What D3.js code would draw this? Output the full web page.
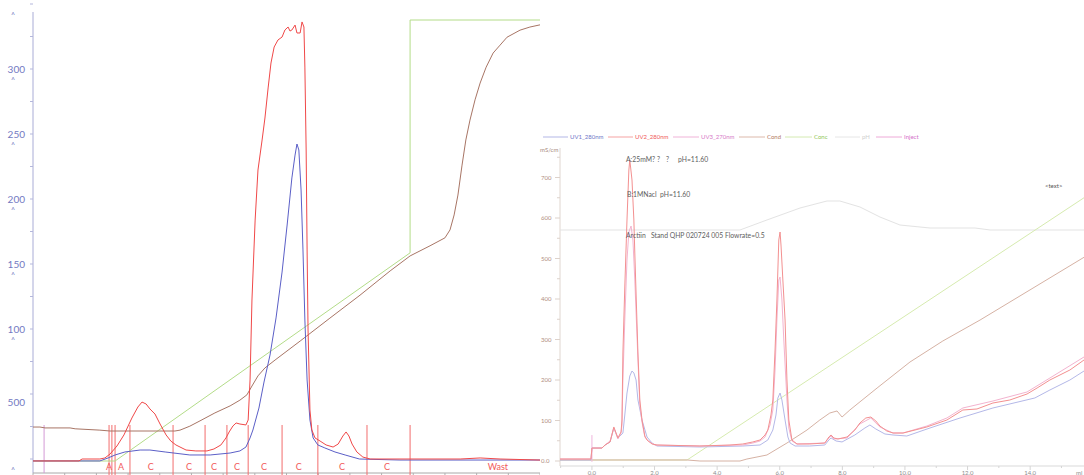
<!DOCTYPE html>
<html><head><meta charset="utf-8">
<script src="https://cdn.jsdelivr.net/npm/d3@7"></script>
<style>html,body{margin:0;padding:0;background:#fff;}svg{display:block;}</style>
</head><body>
<svg id="chart" width="1084" height="475"></svg>
<script>
// ---------- Run 1 (preparative): volume in ml, UV in mAU, Cond / Conc in % of full scale ----------
const prepUV1 = [[0,-1.5],[2.11,-1.5],[2.37,0.8],[2.59,3.1],[2.90,5.4],[3.38,6.9],[3.69,6.9],[4.17,5.4],[4.95,3.1],[5.59,3.1],[6.22,4.6],[6.53,6.2],[6.72,9.2],[6.85,16.2],[6.94,22.3],[7.13,39.2],[7.29,59.2],[7.48,80],[7.67,108.5],[7.86,143.8],[8.02,180],[8.17,216.2],[8.27,233.8],[8.33,242.3],[8.39,237.7],[8.46,206.9],[8.52,160.8],[8.58,106.9],[8.65,60.8],[8.74,30],[8.84,16.2],[8.99,10.8],[9.21,8.5],[9.53,5.4],[9.85,3.1],[10.30,0],[11.58,-0.8],[16,-0.8]];
const prepUV2 = [[0,-1.5],[1.45,-1.5],[1.55,0],[2.11,0],[2.27,0.8],[2.43,3.8],[2.65,10],[2.87,18.5],[3.12,31.5],[3.31,40],[3.44,43.8],[3.57,42.3],[3.69,38.5],[3.85,34.6],[4.01,26.9],[4.20,18.5],[4.35,13.8],[4.51,10.8],[4.83,6.9],[5.14,6.2],[5.49,6.2],[5.71,7.7],[5.93,10.8],[6.09,16.2],[6.19,20.8],[6.31,25.4],[6.41,27.7],[6.53,26.9],[6.72,26.2],[6.79,30],[6.85,60.8],[6.91,122.3],[7.01,183.8],[7.10,222.3],[7.23,245.4],[7.32,262.3],[7.42,285.4],[7.51,304.6],[7.61,316.9],[7.73,322.3],[7.86,324.6],[7.95,330],[8.05,332.3],[8.11,329.2],[8.17,330],[8.27,333.8],[8.33,327.7],[8.43,327.7],[8.49,336.2],[8.55,332.3],[8.58,301.5],[8.62,237.7],[8.65,160.8],[8.68,99.2],[8.74,37.7],[8.80,22.3],[8.90,16.2],[9.06,13.8],[9.25,10.8],[9.47,9.2],[9.63,11.5],[9.78,17.7],[9.88,20.8],[9.97,17.7],[10.07,11.5],[10.22,5.4],[10.41,1.5],[10.64,0],[13.48,0],[14.11,0.8],[14.74,0],[16,-0.8]];
const prepCond = [[0,7.7],[0.22,7.7],[0.38,7.5],[1.17,7.5],[1.33,7.3],[2.11,7.0],[2.43,6.8],[4.48,6.8],[4.64,7.0],[4.95,7.9],[5.27,9.1],[5.74,10.9],[6.22,12.5],[6.53,13.8],[6.75,15.0],[6.91,17.0],[7.10,19.3],[7.32,21.1],[7.64,22.9],[8.43,27.2],[9.37,32.4],[10.32,37.6],[11.27,43.1],[11.90,46.5],[12.53,48.8],[13.00,50.6],[13.16,52.4],[13.29,55.8],[13.41,60.3],[13.54,67.1],[13.66,72.8],[13.79,77.3],[13.95,81.9],[14.11,85.7],[14.30,89.3],[14.52,92.5],[14.74,94.3],[14.96,96.1],[15.37,97.7],[15.68,98.4],[16,98.9]];
const prepConc = [[0,0],[2.59,0],[11.90,47.2],[11.90,100],[16,100]];
const prepInject = 0.35;
const prepFractionEdges = [2.40,2.49,2.59,3.06,4.42,5.43,6.12,6.79,7.86,8.99,10.54,11.90];
const prepFractionNames = ["A","A","C","C","C","C","C","C","C","C","Wast"];
const prepFractionPos = [2.40,2.78,3.72,4.92,5.71,6.44,7.29,8.39,9.75,11.17,14.67];
const prepTickValues = [0,50,100,150,200,250,300,350];
const prepTickLabels = ["","500","100","150","200","250","300",""];

// ---------- Run 2 (analytical): volume in ml, signals in axis units ----------
const anaUV1 = [[-1.02,2.5],[-0.03,2.5],[0,32],[0.32,32],[0.42,39.5],[0.58,47],[0.70,81.5],[0.83,56.8],[0.93,64.2],[0.99,69.1],[1.05,113.6],[1.12,167.9],[1.21,209.9],[1.28,222.2],[1.34,217.3],[1.41,200],[1.47,150.6],[1.60,101.2],[1.76,59.3],[1.92,44.4],[2.08,37],[3.45,34.6],[4.82,37],[5.37,39.5],[5.62,51.9],[5.78,76.5],[5.88,113.6],[5.94,155.6],[6.01,167.9],[6.07,150.6],[6.17,101.2],[6.26,59.3],[6.33,44.4],[6.49,37],[6.96,37],[7.44,39.5],[7.57,51.9],[7.64,56.8],[7.80,49.4],[7.99,47],[8.40,64.2],[8.72,81.5],[8.88,88.9],[9.07,79],[9.36,66.7],[9.62,64.2],[10.06,61.7],[10.80,81.5],[11.76,106.2],[12.81,130.9],[14.15,155.6],[14.63,175.3],[15.27,200],[15.72,222.2]];
const anaUV2 = [[-1.02,4.9],[-0.03,4.9],[0,32],[0.32,32],[0.42,39.5],[0.58,47],[0.70,84],[0.83,56.8],[0.93,71.6],[0.96,101.2],[0.99,266.7],[1.05,429.6],[1.12,595.1],[1.18,718.5],[1.21,743.2],[1.28,693.8],[1.34,595.1],[1.37,513.6],[1.47,266.7],[1.53,150.6],[1.60,101.2],[1.69,61.7],[1.76,51.9],[1.92,42],[2.08,39.5],[3.45,37],[4.41,39.5],[4.82,42],[5.14,47],[5.37,51.9],[5.53,64.2],[5.62,76.5],[5.72,113.6],[5.78,150.6],[5.85,274.1],[5.91,397.5],[5.97,545.7],[6.01,565.4],[6.04,533.3],[6.10,446.9],[6.17,348.1],[6.23,200],[6.29,101.2],[6.39,51.9],[6.55,42],[6.96,42],[7.44,44.4],[7.57,59.3],[7.64,64.2],[7.73,56.8],[7.86,54.3],[8.15,59.3],[8.40,76.5],[8.56,93.8],[8.75,106.2],[8.91,108.6],[9.07,98.8],[9.20,86.4],[9.42,74.1],[9.62,69.1],[9.94,69.1],[10.32,76.5],[10.70,84],[11.34,101.2],[11.85,125.9],[12.30,128.4],[12.81,143.2],[13.35,150.6],[13.90,165.4],[14.22,180.2],[14.63,200],[15.27,224.7],[15.72,249.4]];
const anaUV3 = [[-1.02,4.9],[-0.03,4.9],[0,32],[0.32,32],[0.42,39.5],[0.58,49.4],[0.70,81.5],[0.83,54.3],[0.93,69.1],[0.96,88.9],[0.99,200],[1.05,348.1],[1.12,496.3],[1.18,565.4],[1.25,580.2],[1.31,545.7],[1.37,446.9],[1.47,249.4],[1.53,138.3],[1.60,96.3],[1.69,59.3],[1.79,49.4],[2.01,39.5],[3.45,37],[4.82,39.5],[5.14,44.4],[5.37,49.4],[5.53,59.3],[5.69,88.9],[5.78,125.9],[5.85,224.7],[5.91,348.1],[5.97,446.9],[6.01,454.3],[6.07,397.5],[6.13,298.8],[6.23,150.6],[6.29,81.5],[6.39,49.4],[6.55,42],[7.44,44.4],[7.57,56.8],[7.64,61.7],[7.73,54.3],[8.15,56.8],[8.56,91.4],[8.91,106.2],[9.20,84],[9.62,69.1],[9.94,69.1],[10.70,86.4],[11.34,106.2],[11.85,130.9],[12.81,148.1],[13.90,170.4],[14.63,204.9],[15.72,256.8]];
const anaCond = [[-1.02,2.5],[3.04,2.5],[3.45,0],[4.73,0],[4.95,4.9],[5.59,14.8],[6.23,44.4],[6.87,76.5],[7.28,101.2],[7.60,118.5],[7.83,123.5],[7.99,108.6],[8.24,125.9],[9.11,180.2],[10.16,244.4],[11.21,296.3],[12.40,348.1],[15.72,503]];
const anaConc = [[-1.02,2.5],[3.04,2.5],[15.72,650]];
const anaPH = [[-1.02,570.4],[4.73,570.4],[5.59,595.1],[6.65,624.7],[7.51,642],[7.92,642],[8.56,627.2],[9.20,602.5],[9.84,582.7],[10.80,575.3],[12.24,575.3],[12.72,570.4],[15.72,570.4]];
const anaInject = 0;
const anaYTicks = [0,100,200,300,400,500,600,700];
const anaYLabels = ["0.0","100","200","300","400","500","600","700"];
const anaXTicks = [0,2,4,6,8,10,12,14];
const anaXLabels = ["0.0","2.0","4.0","6.0","8.0","10.0","12.0","14.0"];
const legendNames = ["UV1_280nm","UV2_280nm","UV3_270nm","Cond","Conc","pH","Inject"];
const notes = [["A:25mM?", "?", "?", "pH=11.60"], ["B:1MNacl", "pH=11.60"], ["Arctiin", "Stand QHP 020724 005 Flowrate=0.5"]];
const notePieceX = [[626, 657, 666, 678], [627, 660], [626, 651]];

const svg = d3.select("#chart");
const FONT = "Lato, 'DejaVu Sans', sans-serif";

// ================= left panel =================
const lx = d3.scaleLinear().domain([0, 16]).range([33, 540]);
const ly = d3.scaleLinear().domain([0, 350]).range([459, 4]);
const lp = d3.scaleLinear().domain([0, 100]).range([461, 20]);

svg.append("clipPath").attr("id", "leftClip").append("rect")
  .attr("x", 33).attr("y", 0).attr("width", 507).attr("height", 475);
const left = svg.append("g");

// y axis
left.append("line").attr("x1", 33).attr("x2", 33).attr("y1", 12).attr("y2", 473)
  .attr("stroke", "#a9acd6").attr("stroke-width", 1);
left.selectAll(".ytk").data(d3.range(0, 351, 25)).join("line")
  .attr("x1", 30).attr("x2", 33).attr("y1", d => ly(d)).attr("y2", d => ly(d))
  .attr("stroke", "#b4b7dc");
prepTickValues.forEach((v, i) => {
  const lbl = prepTickLabels[i];
  if (lbl) {
    left.append("text").attr("x", 25).attr("y", ly(v) + (v === 50 ? 12 : 4)).attr("text-anchor", "end")
      .attr("font-family", FONT).attr("font-size", 10).attr("fill", "#7379c2").text(lbl);
  }
  if (v !== 50) {
    left.append("text").attr("x", 11).attr("y", ly(v) + 14)
      .attr("font-family", FONT).attr("font-size", 7).attr("fill", "#7379c2").text("^");
  }
});

// x axis
left.append("line").attr("x1", 33).attr("x2", 540).attr("y1", 473).attr("y2", 473)
  .attr("stroke", "#a8a8a8");
left.selectAll(".xtk").data(d3.range(0, 16.01, 1)).join("line")
  .attr("x1", d => lx(d)).attr("x2", d => lx(d)).attr("y1", 473).attr("y2", 476)
  .attr("stroke", "#b0b0b0");

const lp1 = left.append("g").attr("clip-path", "url(#leftClip)");
// fraction marks
lp1.selectAll(".frac").data(prepFractionEdges).join("line")
  .attr("x1", d => lx(d)).attr("x2", d => lx(d)).attr("y1", 425).attr("y2", 475)
  .attr("stroke", "#f26d6d").attr("stroke-width", 1);
lp1.append("line").attr("x1", lx(prepInject)).attr("x2", lx(prepInject))
  .attr("y1", 425).attr("y2", 473).attr("stroke", "#d59ad6");
lp1.selectAll(".fname").data(prepFractionNames).join("text")
  .attr("x", (d, i) => lx(prepFractionPos[i])).attr("y", 470).attr("text-anchor", "middle")
  .attr("font-family", FONT).attr("font-size", 9).attr("fill", "#f25a5a").text(d => d);

const lineL = (ys) => d3.line().x(d => lx(d[0])).y(d => ys(d[1]));
lp1.append("path").datum(prepConc).attr("d", lineL(lp)).attr("fill", "none")
  .attr("stroke", "#b3dc88").attr("stroke-width", 1);
lp1.append("path").datum(prepCond).attr("d", lineL(lp)).attr("fill", "none")
  .attr("stroke", "#a87565").attr("stroke-width", 1);
lp1.append("path").datum(prepUV1).attr("d", lineL(ly)).attr("fill", "none")
  .attr("stroke", "#5b5fc7").attr("stroke-width", 1);
lp1.append("path").datum(prepUV2).attr("d", lineL(ly)).attr("fill", "none")
  .attr("stroke", "#f04848").attr("stroke-width", 1);

// ================= right panel =================
const rx = d3.scaleLinear().domain([-1.02, 15.72]).range([560, 1084]);
const ry = d3.scaleLinear().domain([0, 750]).range([461, 157.25]);
const right = svg.append("g");
right.append("rect").attr("x", 540).attr("y", 120).attr("width", 544).attr("height", 355).attr("fill", "#fff");

// legend
const legX = [543, 608, 673, 739, 785, 835, 876];
const legEnd = [568, 633, 699, 765, 812, 860, 902];
const legLine = ["#b3b7e6", "#f5a3a3", "#f0b3d8", "#dcb9ab", "#d4eab2", "#e6e6e6", "#eeaad8"];
const legText = ["#7077c9", "#f05a5a", "#d77ac8", "#b37a68", "#93c75a", "#cfcfcf", "#d46fc9"];
legendNames.forEach((n, i) => {
  right.append("line").attr("x1", legX[i]).attr("x2", legEnd[i]).attr("y1", 137).attr("y2", 137)
    .attr("stroke", legLine[i]);
  right.append("text").attr("x", legEnd[i] + 2).attr("y", 139).attr("font-family", FONT)
    .attr("font-size", 6).attr("fill", legText[i]).text(n);
});

// y axis
right.append("line").attr("x1", 560).attr("x2", 560).attr("y1", 148).attr("y2", 466)
  .attr("stroke", "#e0d6cf");
right.selectAll(".rytk").data(d3.range(0, 751, 50)).join("line")
  .attr("x1", d => d % 100 === 0 ? 555 : 557).attr("x2", 560)
  .attr("y1", d => ry(d)).attr("y2", d => ry(d)).attr("stroke", "#ddd2cb");
anaYTicks.forEach((v, i) => {
  right.append("text").attr("x", 541).attr("y", ry(v) + 2).attr("font-family", FONT)
    .attr("font-size", 6).attr("fill", "#b08e80").text(anaYLabels[i]);
});
right.append("text").attr("x", 540).attr("y", 152).attr("font-family", FONT)
  .attr("font-size", 6).attr("fill", "#a88a7c").text("mS/cm");

// x axis
right.append("line").attr("x1", 560).attr("x2", 1084).attr("y1", 466).attr("y2", 466)
  .attr("stroke", "#d9d9d9");
right.selectAll(".rxtk").data(d3.range(-1, 16, 1)).join("line")
  .attr("x1", d => rx(d)).attr("x2", d => rx(d)).attr("y1", 466).attr("y2", d => d % 2 === 0 ? 470 : 468)
  .attr("stroke", "#d5d5d5");
anaXTicks.forEach((v, i) => {
  right.append("text").attr("x", rx(v)).attr("y", 475).attr("text-anchor", "middle")
    .attr("font-family", FONT).attr("font-size", 6).attr("fill", "#8d8d8d").text(anaXLabels[i]);
});
right.append("text").attr("x", 1076).attr("y", 475).attr("font-family", FONT)
  .attr("font-size", 6).attr("fill", "#8d8d8d").text("ml");

const lineR = d3.line().x(d => rx(d[0])).y(d => ry(d[1]));
right.append("path").datum(anaPH).attr("d", lineR).attr("fill", "none").attr("stroke", "#e3e3e3");
right.append("path").datum(anaConc).attr("d", lineR).attr("fill", "none").attr("stroke", "#d6ebaf");
right.append("path").datum(anaCond).attr("d", lineR).attr("fill", "none").attr("stroke", "#d6b2a4");
right.append("line").attr("x1", rx(anaInject)).attr("x2", rx(anaInject))
  .attr("y1", ry(-2)).attr("y2", ry(64)).attr("stroke", "#efb4dc");
right.append("path").datum(anaUV1).attr("d", lineR).attr("fill", "none").attr("stroke", "#b4b8e8");
right.append("path").datum(anaUV3).attr("d", lineR).attr("fill", "none").attr("stroke", "#f3b3cf");
right.append("path").datum(anaUV2).attr("d", lineR).attr("fill", "none").attr("stroke", "#f39090");

// run annotations, each line set as word groups
const noteY = [162, 197, 238];
notes.forEach((parts, i) => {
  const t = right.append("text").attr("y", noteY[i]).attr("font-family", FONT)
    .attr("font-size", 6.8).attr("fill", "#5e5e5e");
  parts.forEach((p, j) => t.append("tspan").attr("x", notePieceX[i][j]).text(p));
});
right.append("text").attr("x", 1045).attr("y", 188).attr("font-family", FONT)
  .attr("font-size", 6).attr("fill", "#555").text("<text>");
</script>
</body></html>
